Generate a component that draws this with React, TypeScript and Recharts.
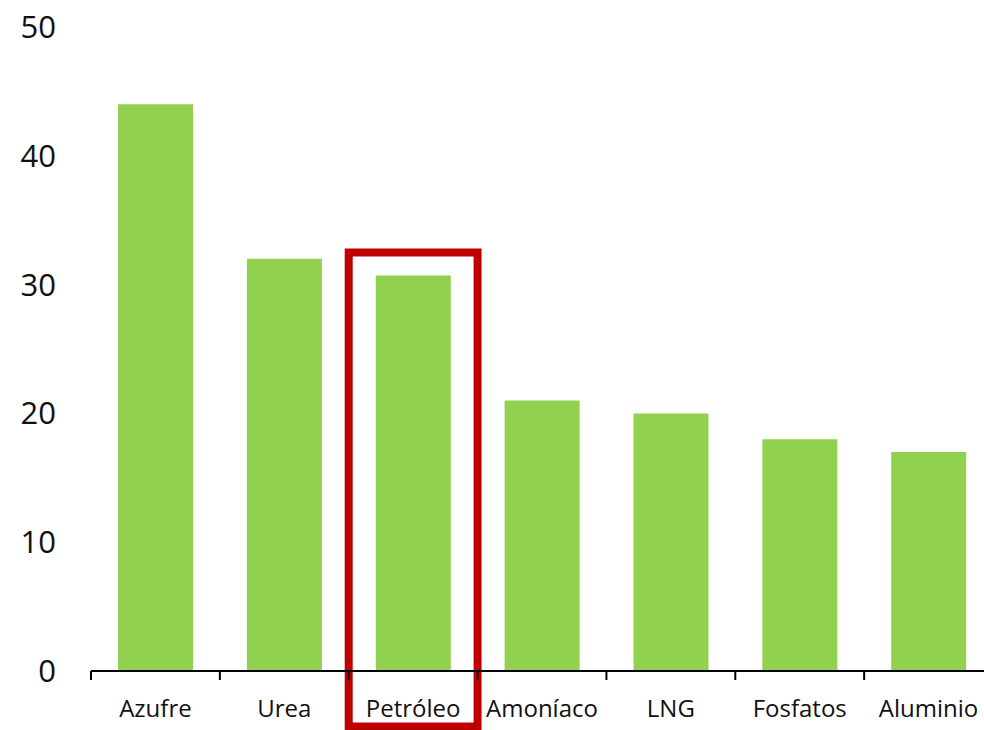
import React from 'react';
import { BarChart, Bar, XAxis, YAxis, ReferenceArea } from 'recharts';

const categories = ['Azufre', 'Urea', 'Petróleo', 'Amoníaco', 'LNG', 'Fosfatos', 'Aluminio'];
const values = [44, 32, 30.7, 21, 20, 18, 17];
const yTicks = [0, 10, 20, 30, 40, 50];
const highlighted = 'Petróleo';

const data = categories.map((name, i) => ({ name, value: values[i] }));

const FONT = '"Open Sans", "Noto Sans", sans-serif';
const X_TICK_MARGIN = 29;
const X_TICK_LEN = 9;

function CategoryTick(props: any) {
  const { x, y, payload, index, width, visibleTicksCount } = props;
  const count = visibleTicksCount || categories.length;
  const band = width / count;
  const lineY = y - X_TICK_MARGIN;
  const left = x - band / 2;
  const right = x + band / 2;
  return (
    <g>
      <line x1={left} x2={left} y1={lineY} y2={lineY + X_TICK_LEN} stroke="#000" strokeWidth={2} />
      {index === count - 1 && (
        <line x1={right} x2={right} y1={lineY} y2={lineY + X_TICK_LEN} stroke="#000" strokeWidth={2} />
      )}
      <text x={x} y={y} dy="0.71em" textAnchor="middle" fill="#111" fontSize={24} fontFamily={FONT}>
        {payload.value}
      </text>
    </g>
  );
}

export default function App() {
  return (
    <div style={{ position: 'absolute', left: 0, top: 0, width: 984, height: 730, background: '#fff' }}>
      <BarChart
        width={984}
        height={730}
        data={data}
        margin={{ top: 27, right: -9, bottom: 0, left: 0 }}
        barCategoryGap="21%"
      >
        <XAxis
          dataKey="name"
          height={59}
          interval={0}
          axisLine={{ stroke: '#000', strokeWidth: 2 }}
          tickLine={false}
          tickSize={0}
          tickMargin={X_TICK_MARGIN}
          tick={<CategoryTick />}
        />
        <YAxis
          width={91}
          domain={[0, 50]}
          ticks={yTicks}
          interval={0}
          axisLine={false}
          tickLine={false}
          tickSize={0}
          tickMargin={35}
          tick={{ fill: '#111', fontSize: 31, fontFamily: FONT }}
        />
        <Bar dataKey="value" fill="#92D050" isAnimationActive={false} />
        <ReferenceArea
          x1={highlighted}
          x2={highlighted}
          y1={-4.3}
          y2={32.5}
          ifOverflow="visible"
          fill="none"
          fillOpacity={0}
          stroke="#C00000"
          strokeWidth={8}
        />
      </BarChart>
    </div>
  );
}
